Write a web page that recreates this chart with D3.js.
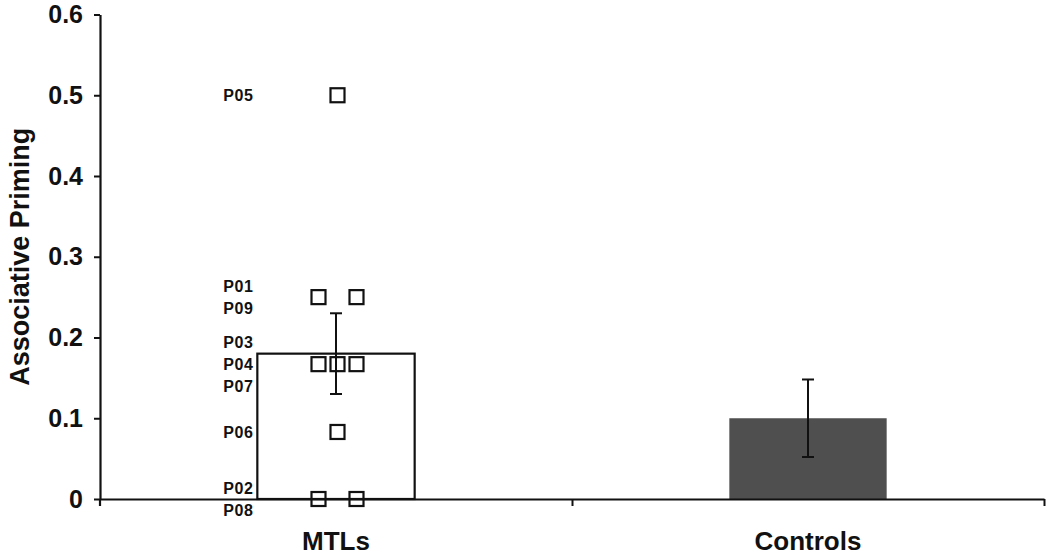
<!DOCTYPE html>
<html>
<head>
<meta charset="utf-8">
<script src="https://cdn.jsdelivr.net/npm/d3@7"></script>
<style>
  body { margin: 0; background: #fff; }
  text { font-family: "Liberation Sans", Arial, sans-serif; font-weight: bold; }
</style>
</head>
<body>
<div id="chart"></div>
<script>
// data
var categories = ["MTLs", "Controls"];
var means = [0.18, 0.10];
var errors = [0.05, 0.048];
var patients = ["P01", "P02", "P03", "P04", "P05", "P06", "P07", "P08", "P09"];
var patientScores = [0.25, 0, 0.167, 0.167, 0.5, 0.083, 0.167, 0, 0.25];
var yTicks = [0, 0.1, 0.2, 0.3, 0.4, 0.5, 0.6];

var W = 1050, H = 557;
var margin = {top: 14.5, right: 6, bottom: 58, left: 100},
    width = W - margin.left - margin.right,
    height = H - margin.top - margin.bottom;

var svg = d3.select("#chart").append("svg")
    .attr("width", W).attr("height", H)
  .append("g")
    .attr("transform", "translate(" + margin.left + "," + margin.top + ")");

var x = d3.scaleBand().domain(categories).range([0, width]).paddingInner(0).paddingOuter(0);
var y = d3.scaleLinear().domain([0, 0.6]).range([height, 0]);
var barW = x.bandwidth() / 3;

// bars
svg.selectAll("rect.bar")
  .data(categories)
  .enter().append("rect")
  .attr("class", "bar")
  .attr("x", d => x(d) + x.bandwidth() / 2 - barW / 2)
  .attr("y", (d, i) => y(means[i]))
  .attr("width", barW)
  .attr("height", (d, i) => height - y(means[i]))
  .attr("fill", (d, i) => i === 0 ? "#fff" : "#4f4f4f")
  .attr("stroke", (d, i) => i === 0 ? "#111" : "none")
  .attr("stroke-width", 2.2);

// y axis
var yAxis = svg.append("g")
  .call(d3.axisLeft(y).tickValues(yTicks).tickSize(6).tickSizeOuter(0).tickPadding(11)
    .tickFormat(d => d === 0 ? "0" : d3.format(".1f")(d)));
yAxis.select(".domain").attr("stroke", "#111").attr("stroke-width", 2.2);
yAxis.selectAll(".tick line").attr("stroke", "#111").attr("stroke-width", 2);
yAxis.selectAll(".tick text").style("font-size", "25px").attr("fill", "#111");
// y axis continues a little below the origin
svg.append("line").attr("x1", 0).attr("x2", 0).attr("y1", height).attr("y2", height + 7)
  .attr("stroke", "#111").attr("stroke-width", 2.2);

// x axis (ticks at band edges)
var xEdges = d3.scaleLinear().domain([0, categories.length]).range([0, width]);
var xAxis = svg.append("g")
  .attr("transform", "translate(0," + height + ")")
  .call(d3.axisBottom(xEdges).ticks(categories.length).tickSize(7).tickSizeOuter(0).tickFormat(""));
xAxis.select(".domain").attr("stroke", "#111").attr("stroke-width", 2.2);
xAxis.selectAll(".tick line").attr("stroke", "#111").attr("stroke-width", 2)
  .attr("display", d => d === 0 ? "none" : null);

// category labels
svg.selectAll("text.cat")
  .data(categories)
  .enter().append("text")
  .attr("class", "cat")
  .attr("x", d => x(d) + x.bandwidth() / 2)
  .attr("y", height + 51)
  .attr("text-anchor", "middle")
  .style("font-size", "26px")
  .attr("fill", "#111")
  .text(d => d);

// error bars
var eb = svg.selectAll("g.err")
  .data(categories)
  .enter().append("g")
  .attr("class", "err")
  .attr("stroke", "#111").attr("stroke-width", 2);
eb.append("line")
  .attr("x1", d => x(d) + x.bandwidth() / 2).attr("x2", d => x(d) + x.bandwidth() / 2)
  .attr("y1", (d, i) => y(means[i] + errors[i])).attr("y2", (d, i) => y(means[i] - errors[i]));
[1, -1].forEach(function(s) {
  eb.append("line")
    .attr("x1", d => x(d) + x.bandwidth() / 2 - 6).attr("x2", d => x(d) + x.bandwidth() / 2 + 6)
    .attr("y1", (d, i) => y(means[i] + s * errors[i])).attr("y2", (d, i) => y(means[i] + s * errors[i]));
});

// individual patients: group equal scores, spread them sideways
var groups = d3.groups(patients.map((p, i) => ({id: p, v: patientScores[i]})), d => d.v);
var pts = [];
groups.forEach(function(g) {
  var n = g[1].length;
  g[1].forEach(function(p, k) {
    var col = n === 1 ? 0 : n === 2 ? (k === 0 ? -1 : 1) : k - (n - 1) / 2;
    var row = k - (n - 1) / 2;
    pts.push({id: p.id, v: p.v, col: col, row: row});
  });
});
var cx = x("MTLs") + x.bandwidth() / 2 + 1.5;
var sq = 14;

svg.selectAll("rect.pt")
  .data(pts)
  .enter().append("rect")
  .attr("class", "pt")
  .attr("x", d => cx + d.col * 19 - sq / 2)
  .attr("y", d => y(d.v) - sq / 2)
  .attr("width", sq).attr("height", sq)
  .attr("fill", "none")
  .attr("stroke", "#111").attr("stroke-width", 2.2);

svg.selectAll("text.pid")
  .data(pts)
  .enter().append("text")
  .attr("class", "pid")
  .attr("x", cx - 84)
  .attr("y", d => y(d.v) + d.row * 22)
  .attr("dy", "0.36em")
  .attr("text-anchor", "end")
  .style("font-size", "16px")
  .style("letter-spacing", "0.6px")
  .attr("fill", "#111")
  .text(d => d.id);

// y title
svg.append("text")
  .attr("transform", "rotate(-90)")
  .attr("x", -height / 2)
  .attr("y", -margin.left + 29)
  .attr("text-anchor", "middle")
  .style("font-size", "27px")
  .attr("fill", "#111")
  .text("Associative Priming");
</script>
</body>
</html>
